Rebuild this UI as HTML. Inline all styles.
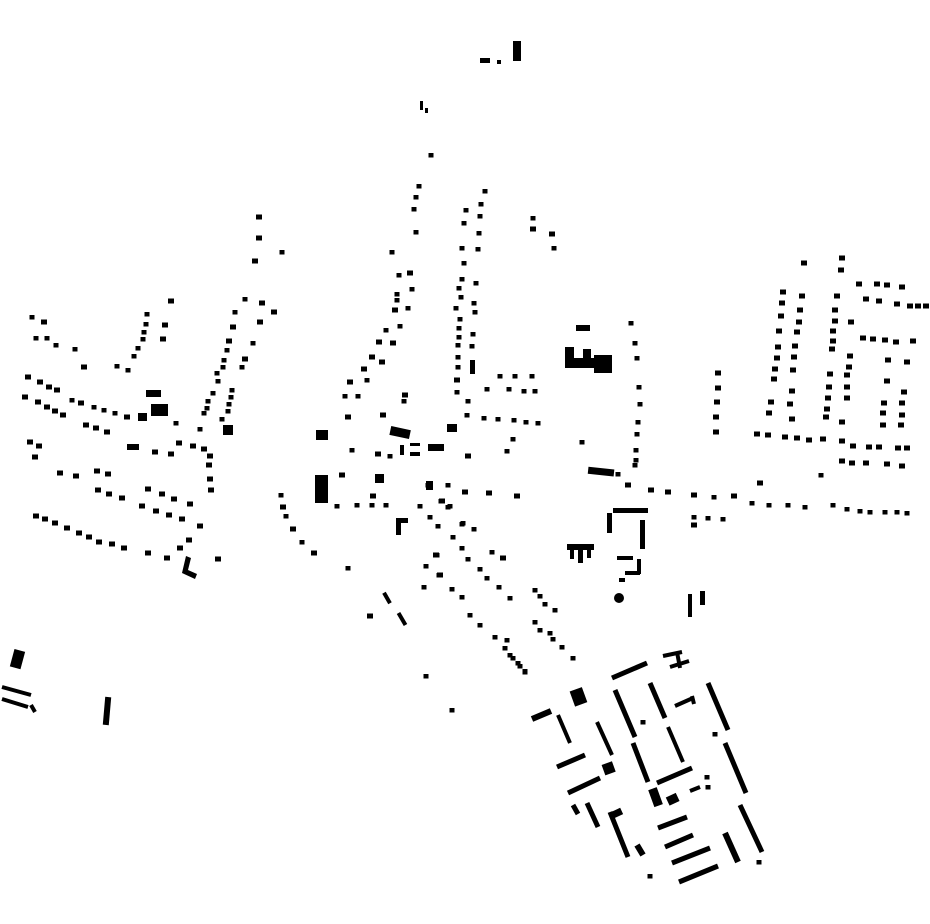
<!DOCTYPE html>
<html><head><meta charset="utf-8"><style>html,body{margin:0;padding:0;background:#fff}svg{display:block}</style></head>
<body>
<svg width="930" height="924" viewBox="0 0 930 924" xmlns="http://www.w3.org/2000/svg">
<defs>
<rect id="d" x="-3" y="-2.5" width="6" height="5" fill="#000"/>
<rect id="s" x="-2.5" y="-2" width="5" height="4.5" fill="#000"/>
</defs>
<g fill="#000">
<rect x="480" y="58" width="10" height="5"/><rect x="497" y="60" width="4" height="4"/><rect x="513" y="41" width="8" height="20"/>
<rect x="420" y="101" width="3" height="9"/><rect x="425" y="108" width="3" height="5"/>
<use href="#s" x="431" y="155"/>
</g>
<g>
<use href="#d" x="259" y="217"/><use href="#d" x="259" y="238"/><use href="#d" x="255" y="261"/><use href="#s" x="282" y="252"/>
<use href="#s" x="419" y="186"/><use href="#s" x="416" y="197"/><use href="#s" x="414" y="209"/><use href="#s" x="416" y="232"/><use href="#s" x="392" y="252"/><use href="#d" x="410" y="273"/><use href="#s" x="399" y="275"/><use href="#s" x="412" y="289"/><use href="#s" x="397" y="294"/><use href="#s" x="397" y="300"/><use href="#d" x="395" y="310"/><use href="#s" x="408" y="308"/><use href="#s" x="400" y="326"/><use href="#s" x="386" y="330"/><use href="#d" x="379" y="342"/><use href="#d" x="393" y="343"/><use href="#d" x="372" y="357"/><use href="#d" x="382" y="362"/><use href="#d" x="364" y="369"/><use href="#s" x="367" y="380"/><use href="#d" x="350" y="382"/><use href="#s" x="345" y="396"/><use href="#s" x="358" y="396"/><use href="#d" x="405" y="395"/><use href="#s" x="404" y="401"/><use href="#d" x="348" y="417"/><use href="#d" x="383" y="415"/>
<use href="#s" x="462" y="248"/><use href="#s" x="464" y="263"/><use href="#s" x="462" y="279"/><use href="#s" x="459" y="288"/><use href="#s" x="461" y="297"/><use href="#s" x="456" y="308"/><use href="#s" x="460" y="319"/><use href="#s" x="459" y="328"/><use href="#s" x="459" y="337"/><use href="#s" x="458" y="345"/><use href="#s" x="458" y="357"/><use href="#s" x="458" y="367"/><use href="#d" x="457" y="380"/><use href="#s" x="457" y="392"/>
<use href="#s" x="32" y="317"/><use href="#d" x="44" y="322"/><use href="#s" x="36" y="338"/><use href="#s" x="47" y="338"/><use href="#s" x="56" y="345"/><use href="#s" x="75" y="349"/><use href="#d" x="84" y="367"/><use href="#s" x="117" y="366"/><use href="#s" x="128" y="370"/><use href="#d" x="171" y="301"/><use href="#s" x="147" y="314"/><use href="#s" x="146" y="324"/><use href="#s" x="144" y="332"/><use href="#s" x="143" y="339"/><use href="#s" x="138" y="348"/><use href="#s" x="134" y="356"/><use href="#d" x="165" y="325"/><use href="#d" x="163" y="339"/>
<use href="#d" x="28" y="377"/><use href="#d" x="40" y="382"/><use href="#d" x="49" y="387"/><use href="#d" x="57" y="390"/><use href="#d" x="25" y="397"/><use href="#d" x="38" y="402"/><use href="#d" x="47" y="407"/><use href="#d" x="55" y="411"/><use href="#d" x="63" y="415"/><use href="#s" x="72" y="400"/><use href="#d" x="81" y="403"/><use href="#s" x="94" y="407"/><use href="#s" x="104" y="410"/><use href="#s" x="115" y="413"/><use href="#d" x="127" y="417"/><use href="#s" x="176" y="423"/><use href="#d" x="86" y="425"/><use href="#d" x="96" y="428"/><use href="#d" x="107" y="432"/><use href="#d" x="155" y="452"/><use href="#d" x="171" y="454"/><use href="#d" x="179" y="443"/><use href="#d" x="193" y="446"/><use href="#d" x="204" y="449"/><use href="#d" x="210" y="456"/><use href="#d" x="209" y="465"/><use href="#d" x="210" y="479"/><use href="#d" x="211" y="490"/><use href="#s" x="200" y="429"/>
<use href="#s" x="235" y="312"/><use href="#s" x="245" y="299"/><use href="#d" x="233" y="327"/><use href="#d" x="229" y="341"/><use href="#s" x="227" y="350"/><use href="#s" x="224" y="360"/><use href="#s" x="223" y="367"/><use href="#s" x="217" y="373"/><use href="#s" x="218" y="381"/><use href="#s" x="213" y="393"/><use href="#s" x="208" y="401"/><use href="#s" x="207" y="408"/><use href="#s" x="204" y="413"/><use href="#d" x="262" y="303"/><use href="#d" x="274" y="312"/><use href="#d" x="260" y="322"/><use href="#s" x="253" y="343"/><use href="#d" x="245" y="359"/><use href="#s" x="242" y="367"/><use href="#s" x="232" y="390"/><use href="#s" x="231" y="397"/><use href="#s" x="229" y="404"/><use href="#s" x="228" y="411"/><use href="#s" x="222" y="419"/>
<use href="#d" x="30" y="442"/><use href="#d" x="39" y="446"/><use href="#d" x="35" y="457"/><use href="#d" x="60" y="473"/><use href="#d" x="76" y="476"/><use href="#d" x="97" y="471"/><use href="#d" x="108" y="474"/><use href="#d" x="98" y="490"/><use href="#d" x="109" y="494"/><use href="#d" x="122" y="498"/><use href="#d" x="148" y="489"/><use href="#d" x="162" y="494"/><use href="#d" x="174" y="499"/><use href="#d" x="190" y="504"/><use href="#d" x="142" y="506"/><use href="#d" x="156" y="511"/><use href="#d" x="169" y="515"/><use href="#d" x="182" y="519"/><use href="#d" x="200" y="526"/><use href="#d" x="189" y="540"/><use href="#d" x="180" y="548"/><use href="#d" x="36" y="516"/><use href="#d" x="45" y="519"/><use href="#d" x="55" y="523"/><use href="#d" x="67" y="528"/><use href="#d" x="79" y="533"/><use href="#d" x="89" y="537"/><use href="#d" x="99" y="542"/><use href="#d" x="112" y="544"/><use href="#d" x="124" y="548"/><use href="#d" x="148" y="553"/><use href="#d" x="167" y="558"/><use href="#d" x="218" y="559"/>
<use href="#s" x="352" y="450"/><use href="#d" x="378" y="454"/><use href="#s" x="390" y="456"/><use href="#d" x="342" y="475"/><use href="#s" x="448" y="485"/><use href="#d" x="373" y="496"/><use href="#s" x="337" y="506"/><use href="#s" x="357" y="505"/><use href="#s" x="372" y="505"/><use href="#s" x="386" y="505"/><use href="#s" x="281" y="495"/><use href="#d" x="283" y="507"/><use href="#s" x="286" y="516"/><use href="#d" x="293" y="529"/><use href="#s" x="302" y="542"/><use href="#d" x="314" y="553"/><use href="#s" x="348" y="568"/>
<use href="#s" x="420" y="506"/><use href="#s" x="430" y="517"/><use href="#s" x="438" y="526"/><use href="#d" x="442" y="501"/><use href="#s" x="450" y="506"/><use href="#s" x="453" y="537"/><use href="#s" x="462" y="548"/><use href="#s" x="463" y="523"/><use href="#d" x="436" y="555"/><use href="#s" x="426" y="566"/><use href="#d" x="440" y="575"/><use href="#s" x="424" y="587"/><use href="#s" x="452" y="589"/>
<use href="#s" x="485" y="191"/><use href="#s" x="481" y="204"/><use href="#s" x="480" y="216"/><use href="#s" x="479" y="233"/><use href="#s" x="478" y="249"/><use href="#s" x="466" y="210"/><use href="#s" x="464" y="223"/><use href="#s" x="533" y="218"/><use href="#d" x="533" y="229"/><use href="#d" x="552" y="234"/><use href="#s" x="554" y="248"/>
<use href="#s" x="476" y="283"/><use href="#s" x="474" y="303"/><use href="#s" x="475" y="312"/><use href="#s" x="473" y="334"/><use href="#s" x="472" y="346"/><rect x="470" y="360" width="5" height="14"/><use href="#s" x="468" y="401"/><use href="#s" x="467" y="415"/>
<use href="#s" x="500" y="376"/><use href="#s" x="515" y="376"/><use href="#s" x="532" y="376"/><use href="#s" x="487" y="389"/><use href="#s" x="509" y="389"/><use href="#s" x="524" y="391"/><use href="#s" x="535" y="391"/><use href="#s" x="484" y="418"/><use href="#s" x="498" y="419"/><use href="#s" x="514" y="420"/><use href="#s" x="526" y="422"/><use href="#s" x="538" y="423"/><use href="#s" x="513" y="439"/><use href="#s" x="507" y="451"/><use href="#d" x="468" y="456"/>
<use href="#s" x="631" y="323"/><use href="#s" x="635" y="343"/><use href="#s" x="637" y="358"/><use href="#s" x="639" y="387"/><use href="#s" x="640" y="404"/><use href="#s" x="638" y="422"/><use href="#s" x="637" y="434"/><use href="#s" x="636" y="450"/><use href="#s" x="636" y="460"/><use href="#s" x="635" y="465"/>
<use href="#s" x="582" y="442"/><use href="#s" x="618" y="474"/><use href="#d" x="628" y="485"/><use href="#d" x="651" y="490"/><use href="#d" x="668" y="492"/><use href="#d" x="694" y="495"/><use href="#s" x="714" y="497"/><use href="#d" x="734" y="496"/><use href="#d" x="760" y="483"/><use href="#s" x="752" y="503"/><use href="#s" x="769" y="505"/><use href="#s" x="788" y="505"/><use href="#s" x="805" y="507"/><use href="#s" x="821" y="475"/><use href="#s" x="833" y="505"/><use href="#s" x="847" y="509"/><use href="#s" x="860" y="511"/><use href="#s" x="870" y="512"/><use href="#s" x="885" y="512"/><use href="#s" x="897" y="512"/><use href="#s" x="907" y="513"/><use href="#s" x="694" y="517"/><use href="#s" x="708" y="518"/><use href="#s" x="723" y="519"/><use href="#d" x="694" y="525"/>
<use href="#d" x="718" y="373"/><use href="#d" x="718" y="388"/><use href="#d" x="717" y="402"/><use href="#d" x="716" y="417"/><use href="#d" x="716" y="432"/>
<use href="#d" x="783" y="292"/><use href="#d" x="782" y="303"/><use href="#d" x="781" y="316"/><use href="#d" x="779" y="331"/><use href="#d" x="778" y="347"/><use href="#d" x="777" y="358"/><use href="#d" x="775" y="369"/><use href="#d" x="774" y="379"/><use href="#d" x="771" y="402"/><use href="#d" x="769" y="413"/>
<use href="#d" x="802" y="296"/><use href="#d" x="800" y="310"/><use href="#d" x="799" y="322"/><use href="#d" x="797" y="332"/><use href="#d" x="795" y="346"/><use href="#d" x="794" y="357"/><use href="#d" x="793" y="370"/><use href="#d" x="792" y="391"/><use href="#d" x="790" y="404"/><use href="#d" x="792" y="419"/>
<use href="#d" x="804" y="263"/><use href="#d" x="842" y="258"/><use href="#d" x="841" y="270"/><use href="#d" x="837" y="296"/><use href="#d" x="835" y="310"/><use href="#d" x="835" y="321"/><use href="#d" x="833" y="331"/><use href="#d" x="833" y="341"/><use href="#d" x="832" y="349"/><use href="#d" x="830" y="374"/><use href="#d" x="829" y="387"/><use href="#d" x="828" y="398"/><use href="#d" x="827" y="409"/><use href="#d" x="826" y="417"/>
<use href="#d" x="851" y="322"/><use href="#d" x="850" y="356"/><use href="#d" x="849" y="367"/><use href="#d" x="847" y="375"/><use href="#d" x="847" y="387"/><use href="#d" x="847" y="398"/><use href="#d" x="842" y="422"/>
<use href="#d" x="859" y="284"/><use href="#d" x="877" y="284"/><use href="#d" x="887" y="285"/><use href="#d" x="902" y="287"/><use href="#d" x="866" y="299"/><use href="#d" x="879" y="301"/><use href="#d" x="897" y="304"/><use href="#d" x="910" y="306"/><use href="#d" x="918" y="306"/><use href="#d" x="926" y="306"/>
<use href="#d" x="863" y="338"/><use href="#d" x="873" y="339"/><use href="#d" x="885" y="340"/><use href="#d" x="896" y="342"/><use href="#d" x="913" y="341"/><use href="#d" x="888" y="360"/><use href="#d" x="907" y="362"/><use href="#d" x="887" y="381"/><use href="#d" x="904" y="392"/><use href="#d" x="884" y="403"/><use href="#d" x="902" y="403"/><use href="#d" x="883" y="413"/><use href="#d" x="902" y="415"/><use href="#d" x="883" y="425"/><use href="#d" x="901" y="425"/>
<use href="#d" x="757" y="434"/><use href="#d" x="768" y="435"/><use href="#d" x="785" y="437"/><use href="#d" x="797" y="438"/><use href="#d" x="809" y="440"/><use href="#d" x="823" y="439"/><use href="#d" x="842" y="441"/><use href="#d" x="853" y="446"/><use href="#d" x="869" y="447"/><use href="#d" x="879" y="447"/><use href="#d" x="898" y="448"/><use href="#d" x="907" y="448"/><use href="#d" x="842" y="461"/><use href="#d" x="852" y="463"/><use href="#d" x="866" y="463"/><use href="#d" x="887" y="464"/><use href="#d" x="902" y="466"/>
<use href="#s" x="428" y="485"/><use href="#d" x="465" y="492"/><use href="#d" x="489" y="493"/><use href="#d" x="517" y="496"/><use href="#s" x="441" y="501"/><use href="#s" x="448" y="507"/><use href="#s" x="462" y="524"/><use href="#s" x="474" y="529"/><use href="#s" x="468" y="559"/><use href="#s" x="492" y="552"/><use href="#d" x="503" y="558"/><use href="#s" x="437" y="555"/><use href="#s" x="439" y="575"/><use href="#s" x="480" y="569"/><use href="#s" x="487" y="578"/><use href="#s" x="499" y="587"/><use href="#s" x="462" y="597"/><use href="#s" x="510" y="598"/><use href="#s" x="535" y="590"/><use href="#s" x="540" y="596"/>
<use href="#s" x="470" y="615"/><use href="#s" x="480" y="625"/><use href="#s" x="495" y="637"/><use href="#s" x="505" y="648"/><use href="#s" x="513" y="658"/><use href="#s" x="520" y="666"/><use href="#s" x="525" y="672"/><use href="#s" x="545" y="604"/><use href="#s" x="555" y="610"/><use href="#s" x="535" y="622"/><use href="#s" x="540" y="630"/><use href="#s" x="550" y="633"/><use href="#s" x="553" y="639"/><use href="#s" x="562" y="647"/><use href="#s" x="573" y="658"/><use href="#s" x="507" y="640"/><use href="#s" x="510" y="655"/><use href="#s" x="518" y="663"/><use href="#s" x="525" y="671"/>
<use href="#s" x="426" y="676"/><use href="#s" x="452" y="710"/><use href="#d" x="370" y="616"/><use href="#s" x="715" y="734"/><use href="#s" x="643" y="722"/><use href="#s" x="759" y="862"/><use href="#s" x="650" y="876"/><use href="#s" x="707" y="777"/><use href="#s" x="708" y="787"/>
</g>
<g fill="#000">
<rect x="146" y="390" width="15" height="7"/><rect x="151" y="404" width="17" height="12"/><rect x="138" y="413" width="9" height="8"/><rect x="127" y="444" width="12" height="6"/><rect x="223" y="425" width="10" height="10"/>
<rect x="390" y="428" width="20" height="9" transform="rotate(12 400 433)"/><rect x="447" y="424" width="10" height="8"/><rect x="316" y="430" width="12" height="10"/><rect x="428" y="444" width="16" height="7"/><rect x="410" y="443" width="10" height="3"/><rect x="410" y="452" width="10" height="4"/><rect x="400" y="445" width="4" height="10"/>
<rect x="315" y="475" width="13" height="28"/><rect x="375" y="474" width="9" height="9"/><rect x="426" y="481" width="7" height="9"/>
<rect x="396" y="518" width="5" height="17"/><rect x="396" y="518" width="12" height="5"/>
<polygon points="186,556 191,558 188,570 197,574 195,579 182,573"/>
<rect x="576" y="325" width="14" height="6"/>
<rect x="565" y="347" width="9" height="21"/><rect x="565" y="358" width="30" height="10"/><rect x="583" y="349" width="8" height="14"/><rect x="594" y="355" width="18" height="18"/>
<rect x="588" y="468" width="26" height="7" transform="rotate(6 600 472)"/>
<rect x="613" y="508" width="35" height="5"/><rect x="607" y="513" width="5" height="20"/><rect x="640" y="520" width="5" height="29"/><rect x="617" y="556" width="16" height="4"/><rect x="637" y="559" width="4" height="15"/><rect x="625" y="571" width="15" height="4"/><rect x="619" y="578" width="6" height="4"/>
<circle cx="619" cy="598" r="5"/>
<rect x="688" y="594" width="4" height="23"/><rect x="700" y="591" width="5" height="14"/>
<rect x="567" y="544" width="27" height="6"/><rect x="570" y="549" width="4" height="10"/><rect x="578" y="549" width="5" height="14"/><rect x="587" y="549" width="4" height="9"/>
<rect x="385" y="592" width="4" height="12" transform="rotate(-30 387 598)"/><rect x="400" y="612" width="4" height="14" transform="rotate(-30 402 619)"/>
<rect x="12" y="650" width="11" height="18" transform="rotate(15 17 659)"/>
<rect x="104" y="697" width="6" height="28" transform="rotate(5 107 711)"/>
<rect x="572" y="689" width="13" height="16" transform="rotate(-20 578 697)"/>
<rect x="603" y="763" width="11" height="11" transform="rotate(-20 608 768)"/>
<rect x="651" y="788" width="9" height="18" transform="rotate(-20 656 797)"/>
<rect x="667" y="795" width="11" height="9" transform="rotate(-25 672 799)"/>
<rect x="610" y="810" width="12" height="7" transform="rotate(-25 616 813)"/>
</g>
<g stroke="#000" stroke-linecap="butt" fill="none">
<line x1="2" y1="687" x2="31" y2="695" stroke-width="4"/><line x1="2" y1="699" x2="28" y2="707" stroke-width="4"/><line x1="31" y1="705" x2="35" y2="712" stroke-width="4"/>
<line x1="612" y1="678" x2="647" y2="663" stroke-width="5"/>
<line x1="663" y1="656" x2="682" y2="652" stroke-width="4"/><line x1="670" y1="667" x2="689" y2="661" stroke-width="4"/><line x1="677" y1="652" x2="680" y2="668" stroke-width="4"/>
<line x1="532" y1="719" x2="551" y2="711" stroke-width="6"/>
<line x1="558" y1="715" x2="570" y2="743" stroke-width="4"/>
<line x1="615" y1="690" x2="635" y2="737" stroke-width="5"/>
<line x1="650" y1="683" x2="665" y2="718" stroke-width="5"/>
<line x1="675" y1="706" x2="693" y2="698" stroke-width="4"/><line x1="692" y1="696" x2="694" y2="704" stroke-width="4"/>
<line x1="708" y1="683" x2="728" y2="730" stroke-width="5"/>
<line x1="597" y1="722" x2="612" y2="755" stroke-width="4"/>
<line x1="633" y1="743" x2="648" y2="782" stroke-width="5"/>
<line x1="668" y1="727" x2="683" y2="762" stroke-width="4"/>
<line x1="725" y1="743" x2="746" y2="793" stroke-width="5"/>
<line x1="557" y1="767" x2="585" y2="755" stroke-width="5"/>
<line x1="568" y1="793" x2="600" y2="778" stroke-width="5"/>
<line x1="657" y1="783" x2="692" y2="768" stroke-width="5"/>
<line x1="690" y1="791" x2="700" y2="787" stroke-width="4"/>
<line x1="573" y1="805" x2="578" y2="814" stroke-width="5"/>
<line x1="587" y1="803" x2="598" y2="827" stroke-width="5"/>
<line x1="610" y1="812" x2="628" y2="857" stroke-width="5"/>
<line x1="637" y1="845" x2="643" y2="855" stroke-width="6"/>
<line x1="658" y1="828" x2="687" y2="817" stroke-width="5"/>
<line x1="665" y1="847" x2="693" y2="835" stroke-width="5"/>
<line x1="672" y1="863" x2="710" y2="848" stroke-width="5"/>
<line x1="679" y1="882" x2="718" y2="866" stroke-width="5"/>
<line x1="740" y1="805" x2="762" y2="852" stroke-width="5"/>
<line x1="725" y1="833" x2="738" y2="862" stroke-width="6"/>
</g>
</svg>
</body></html>
